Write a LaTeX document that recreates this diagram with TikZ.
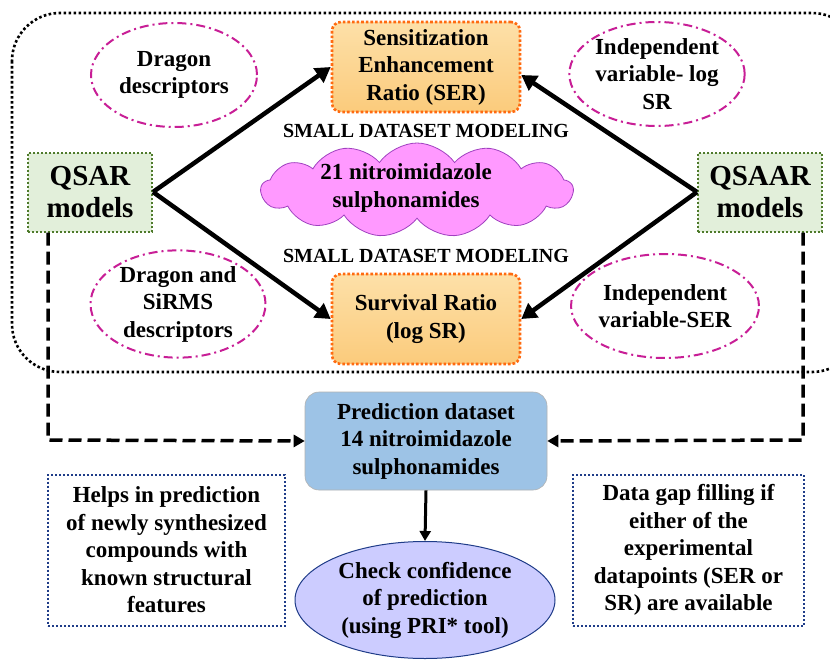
\documentclass[tikz,border=0pt]{standalone}
\usepackage{fontspec}
\setmainfont{Liberation Serif}
\usetikzlibrary{shapes.geometric,shapes.symbols,arrows.meta}
\definecolor{orfill}{HTML}{FBCB7C}
\definecolor{ortop}{HTML}{FDE0A8}
\definecolor{orline}{HTML}{FF6A10}
\definecolor{grfill}{HTML}{E2EFDA}
\definecolor{grline}{HTML}{4E7A2A}
\definecolor{mag}{HTML}{C81E96}
\definecolor{cloudfill}{HTML}{FF99FF}
\definecolor{cloudline}{HTML}{A040C0}
\definecolor{bluefill}{HTML}{9DC3E6}
\definecolor{lavfill}{HTML}{CCCCFF}
\definecolor{navy}{HTML}{1F3C88}
\tikzset{
  x=1pt,y=-1pt,
  every node/.style={font=\bfseries\fontsize{23}{27.5}\selectfont, align=center, inner sep=0pt},
  orbox/.style={rounded corners=9pt, draw=orline, dotted, line width=2.6pt, top color=ortop, bottom color=orfill, minimum width=188pt, minimum height=90pt},
  grbox/.style={draw=grline, dotted, line width=2pt, fill=grfill, minimum width=124pt, minimum height=79pt, font=\bfseries\fontsize{29}{32}\selectfont},
  magell/.style={ellipse, draw=mag, line width=2pt, dash pattern=on 9pt off 4pt on 2pt off 4pt},
  infobox/.style={draw=navy, dotted, line width=2pt, minimum width=237pt, minimum height=151pt},
  bigarrow/.style={line width=4.5pt, -{Triangle[length=15pt,width=17pt]}},
  dasharrow/.style={line width=3.5pt, dash pattern=on 13pt off 6pt, -{Triangle[length=11pt,width=12pt]}},
  smalltitle/.style={font=\bfseries\fontsize{20}{22}\selectfont}
}
\begin{document}
\begin{tikzpicture}
\useasboundingbox (0,0) rectangle (830,661);
\fill[white] (0,0) rectangle (830,661);
% outer dotted frame
\draw[line width=2.6pt, dash pattern=on 2.6pt off 2.4pt, rounded corners=48pt] (12,13) rectangle (860,372);

% ellipses
\node[magell, minimum width=166pt, minimum height=104pt] (e1) at (174,75) {Dragon\\descriptors};
\node[magell, minimum width=166pt, minimum height=104pt] (e2) at (657,74) {Independent\\variable- log\\SR};
\node[magell, minimum width=175pt, minimum height=106pt] (e3) at (178,304) {Dragon and\\SiRMS\\descriptors};
\node[magell, minimum width=166pt, minimum height=104pt] (e4) at (665,306) {Independent\\variable-SER};

% main boxes
\node[orbox] (ser) at (426,67) {Sensitization\\Enhancement\\Ratio (SER)};
\node[orbox] (sr) at (426,319) {Survival Ratio\\(log SR)};
\node[smalltitle] (t1) at (426,131) {SMALL DATASET MODELING};
\node[smalltitle] (t2) at (426,256) {SMALL DATASET MODELING};
\node[cloud, cloud puffs=13, cloud puff arc=110, aspect=3.4, fill=cloudfill, draw=cloudline, line width=0.8pt, minimum width=312pt, minimum height=94pt] (cl) at (417,190) {};
\node (cltext) at (406,188) {21 nitroimidazole\\sulphonamides};

\node[grbox] (qsar) at (90,192) {QSAR\\models};
\node[grbox] (qsaar) at (760,192) {QSAAR\\models};

% thick arrows
\draw[bigarrow] (qsar.east) -- (ser.west);
\draw[bigarrow] (qsar.east) -- (sr.west);
\draw[bigarrow] (qsaar.west) -- ([yshift=-8pt]ser.east);
\draw[bigarrow] (qsaar.west) -- (sr.east);

% prediction
\node[rounded corners=14pt, fill=bluefill, draw=gray!60, line width=0.6pt, minimum width=242pt, minimum height=98pt] (pred) at (426,441) {Prediction dataset\\14 nitroimidazole\\sulphonamides};
\node[ellipse, fill=lavfill, draw=navy, line width=1pt, minimum width=260pt, minimum height=117pt] (chk) at (425,600) {Check confidence\\of prediction\\(using PRI* tool)};
\draw[line width=3pt, -{Triangle[length=10pt,width=11pt]}] (pred.south) -- (chk.north);

\coordinate (c1) at (48,440);
\coordinate (c2) at (803,440);
\draw[dasharrow] (qsar.south -| c1) -- (c1) -- (pred.west);
\draw[dasharrow] (qsaar.south -| c2) -- (c2) -- (pred.east);

\node[infobox] (lb) at (166.5,550) {Helps in prediction\\of newly synthesized\\compounds with\\known structural\\features};
\node[infobox, minimum width=231pt] (rb) at (688.5,550) {Data gap filling if\\either of the\\experimental\\datapoints (SER or\\SR) are available};
\end{tikzpicture}
\end{document}
